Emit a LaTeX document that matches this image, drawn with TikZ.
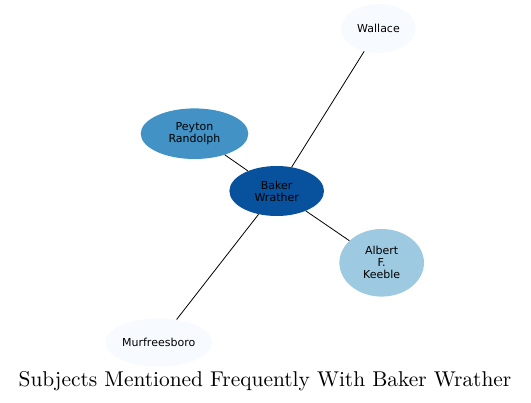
\documentclass[tikz,border=0pt]{standalone}
\usepackage{fontspec}
\setmainfont{Latin Modern Roman}
\newfontfamily\nodefont{DejaVu Sans}
\newfontfamily\titlefont{lmroman10-regular}[Extension=.otf]
\usetikzlibrary{shapes.geometric}
\definecolor{bpale}{HTML}{F7FBFF}
\definecolor{bmid}{HTML}{4292C6}
\definecolor{bdark}{HTML}{08519C}
\definecolor{blight}{HTML}{9ECAE1}
\tikzset{
  ent/.style={ellipse, draw=none, inner sep=0pt, align=center,
    font=\nodefont\fontsize{11}{12}\selectfont, text=black},
  link/.style={draw=black, line width=0.8pt},
}
\begin{document}
\begin{tikzpicture}[x=1pt,y=-1pt]
\useasboundingbox (0,0) rectangle (531,403);
\node[ent, fill=bpale, minimum width=75pt, minimum height=49pt] (wal) at (378.5,28.5) {Wallace};
\node[ent, fill=bmid, minimum width=107.6pt, minimum height=50.6pt] (pey) at (194.5,133.7) {Peyton\\Randolph};
\node[ent, fill=bdark, minimum width=94.6pt, minimum height=50pt] (bak) at (276.7,191) {Baker\\Wrather};
\node[ent, fill=blight, minimum width=84.6pt, minimum height=67.6pt] (alb) at (381.7,262.8) {Albert\\F.\\Keeble};
\node[ent, fill=bpale, minimum width=106.6pt, minimum height=48.4pt] (mur) at (158.7,342.5) {Murfreesboro};
\draw[link] (bak) -- (wal);
\draw[link] (bak) -- (pey);
\draw[link] (bak) -- (alb);
\draw[link] (bak) -- (mur);
\node[inner sep=0pt, font=\titlefont\fontsize{21.4}{24}\selectfont] (title) at (265,381) {Subjects Mentioned Frequently With Baker Wrather};
\end{tikzpicture}
\end{document}
